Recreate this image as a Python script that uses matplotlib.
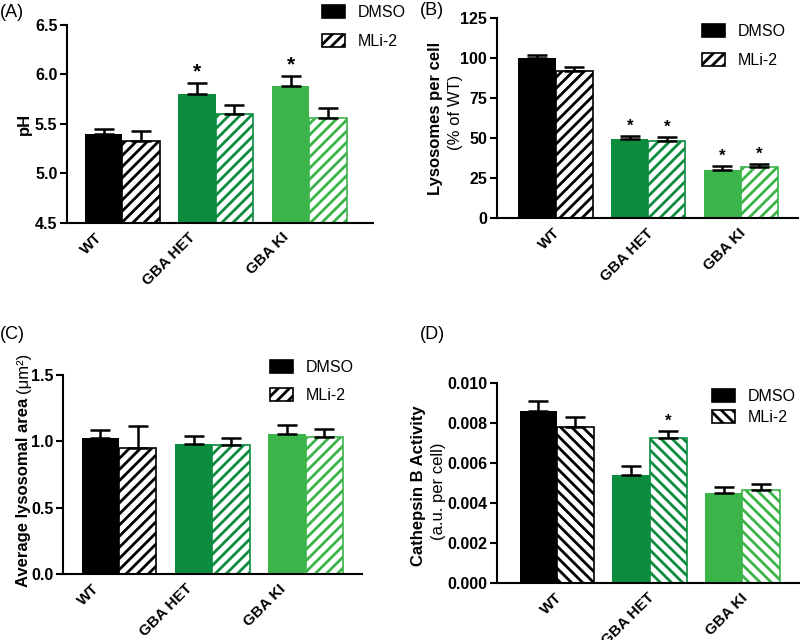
import numpy as np
import matplotlib
matplotlib.use('Agg')
import matplotlib.pyplot as plt
from matplotlib.patches import Patch

plt.rcParams['font.family'] = ['Liberation Sans', 'DejaVu Sans']
plt.rcParams['hatch.linewidth'] = 2.0

groups = ['WT', 'GBA HET', 'GBA KI']
colors = ['#000000', '#0b8c3e', '#3bb44a']

# (A) lysosomal pH
ph_dmso = [5.40, 5.80, 5.88]
ph_dmso_err = [0.05, 0.11, 0.10]
ph_mli = [5.33, 5.60, 5.56]
ph_mli_err = [0.10, 0.09, 0.10]

# (B) lysosomes per cell, % of WT
lyso_dmso = [100, 49.5, 30.3]
lyso_dmso_err = [2.0, 2.0, 2.2]
lyso_mli = [92, 48, 32]
lyso_mli_err = [2.5, 3.0, 2.0]

# (C) average lysosomal area
area_dmso = [1.027, 0.98, 1.053]
area_dmso_err = [0.058, 0.057, 0.067]
area_mli = [0.95, 0.975, 1.03]
area_mli_err = [0.165, 0.05, 0.06]

# (D) cathepsin B activity
ctsb_dmso = [0.0086, 0.0054, 0.00447]
ctsb_dmso_err = [0.0005, 0.00046, 0.00033]
ctsb_mli = [0.0078, 0.00722, 0.00463]
ctsb_mli_err = [0.0005, 0.00036, 0.0003]

# significance stars: (series, group index)
stars_a = [('dmso', 1), ('dmso', 2)]
stars_b = [('dmso', 1), ('mli', 1), ('dmso', 2), ('mli', 2)]
stars_c = []
stars_d = [('mli', 1)]

fig = plt.figure(figsize=(8, 6.4), dpi=100)


def draw_panel(rect, dmso, dmso_err, mli, mli_err, stars, ylim, yticks,
               xlim, hatch='///', fmt=None, star_size=14, label_shift=0.0):
    ax = fig.add_axes(rect)
    x = np.arange(len(groups))
    w = 0.4
    for i in range(len(groups)):
        ax.bar(x[i] - w / 2, dmso[i], w, color=colors[i], edgecolor=colors[i],
               linewidth=0, zorder=2)
        ax.bar(x[i] + w / 2, mli[i], w, color='white', edgecolor=colors[i],
               hatch=hatch, linewidth=1.2, zorder=2)
    ax.errorbar(x - w / 2, dmso, yerr=[np.zeros(3), dmso_err], fmt='none',
                ecolor='black', elinewidth=1.8, capsize=7, capthick=1.8, zorder=3)
    ax.errorbar(x + w / 2, mli, yerr=[np.zeros(3), mli_err], fmt='none',
                ecolor='black', elinewidth=1.8, capsize=7, capthick=1.8, zorder=3)
    span = ylim[1] - ylim[0]
    for series, i in stars:
        if series == 'dmso':
            xs, top = x[i] - w / 2, dmso[i] + dmso_err[i]
        else:
            xs, top = x[i] + w / 2, mli[i] + mli_err[i]
        ax.text(xs, top + span * 0.01, '*', ha='center', va='bottom',
                fontsize=star_size, fontweight='bold')
    ax.set_ylim(*ylim)
    ax.set_xlim(*xlim)
    ax.set_yticks(yticks)
    if fmt:
        ax.set_yticklabels([fmt.format(t) for t in yticks])
    # tick marks are hidden on x, so the label anchor can sit off-centre
    ax.set_xticks(x + label_shift)
    ax.set_xticklabels(groups, rotation=45, ha='right', va='center',
                       rotation_mode='anchor')
    for lab in ax.get_xticklabels():
        lab.set_fontweight('bold')
        lab.set_fontsize(11)
    for lab in ax.get_yticklabels():
        lab.set_fontweight('bold')
        lab.set_fontsize(11.5)
    ax.tick_params(axis='x', length=0, pad=9)
    ax.tick_params(axis='y', length=5, width=1.5, direction='out', pad=2)
    ax.spines['top'].set_visible(False)
    ax.spines['right'].set_visible(False)
    ax.spines['left'].set_linewidth(1.5)
    ax.spines['bottom'].set_linewidth(1.5)
    return ax


def add_legend(ax, anchor, hatch='///', spacing=0.75):
    handles = [Patch(facecolor='black', edgecolor='black', linewidth=1.2),
               Patch(facecolor='white', edgecolor='black', hatch=hatch, linewidth=1.2)]
    ax.legend(handles, ['DMSO', 'MLi-2'], loc='upper left', bbox_to_anchor=anchor,
              bbox_transform=fig.transFigure, frameon=False, fontsize=11.5,
              handlelength=1.45, handleheight=0.85, handletextpad=0.8,
              labelspacing=spacing, borderpad=0, borderaxespad=0)


# (A)
ax_a = draw_panel([0.084, 0.652, 0.382, 0.309], ph_dmso, ph_dmso_err, ph_mli,
                  ph_mli_err, stars_a, (4.5, 6.5), [4.5, 5.0, 5.5, 6.0, 6.5],
                  (-0.59, 2.68), fmt='{:.1f}', star_size=15, label_shift=-0.24)
fig.text(0.03, 0.806, 'pH', rotation=90, ha='center', va='center',
         fontsize=12, fontweight='bold')
add_legend(ax_a, (0.4025, 0.992), spacing=0.85)

# (B)
ax_b = draw_panel([0.621, 0.659, 0.377, 0.313], lyso_dmso, lyso_dmso_err, lyso_mli,
                  lyso_mli_err, stars_b, (0, 125), [0, 25, 50, 75, 100, 125],
                  (-0.634, 2.62), star_size=12, label_shift=0.03)
fig.text(0.544, 0.815, 'Lysosomes per cell', rotation=90, ha='center',
         va='center', fontsize=12, fontweight='bold')
fig.text(0.569, 0.824, '(% of WT)', rotation=90, ha='center', va='center',
         fontsize=12)
add_legend(ax_b, (0.8775, 0.962), spacing=0.85)

# (C)
ax_c = draw_panel([0.079, 0.103, 0.374, 0.311], area_dmso, area_dmso_err, area_mli,
                  area_mli_err, stars_c, (0, 1.5), [0.0, 0.5, 1.0, 1.5],
                  (-0.60, 2.61), fmt='{:.1f}', label_shift=-0.24)
t1 = fig.text(0.03, 0.231, 'Average lysosomal area', rotation=90, ha='center',
              va='center', fontsize=12, fontweight='bold')
ax_c.annotate('(\u03bcm\u00b2)', xy=(0.5, 1.0), xycoords=t1, xytext=(0, 3),
              textcoords='offset points', rotation=90, ha='center', va='bottom',
              fontsize=12)
add_legend(ax_c, (0.3375, 0.438), spacing=0.85)

# (D)
ax_d = draw_panel([0.621, 0.089, 0.379, 0.313], ctsb_dmso, ctsb_dmso_err, ctsb_mli,
                  ctsb_mli_err, stars_d, (0, 0.010),
                  [0.0, 0.002, 0.004, 0.006, 0.008, 0.010], (-0.645, 2.62),
                  hatch='\\\\\\', fmt='{:.3f}', star_size=12, label_shift=0.03)
fig.text(0.5225, 0.241, 'Cathepsin B Activity', rotation=90, ha='center',
         va='center', fontsize=12, fontweight='bold')
fig.text(0.5475, 0.233, '(a.u. per cell)', rotation=90, ha='center', va='center',
         fontsize=12)
add_legend(ax_d, (0.89, 0.392), hatch='\\\\\\', spacing=0.35)

# panel letters
fig.text(0.0, 0.98, '(A)', fontsize=13, va='center')
fig.text(0.525, 0.984, '(B)', fontsize=13, va='center')
fig.text(0.0, 0.477, '(C)', fontsize=13, va='center')
fig.text(0.525, 0.477, '(D)', fontsize=13, va='center')

fig.savefig('out.png', dpi=100)
